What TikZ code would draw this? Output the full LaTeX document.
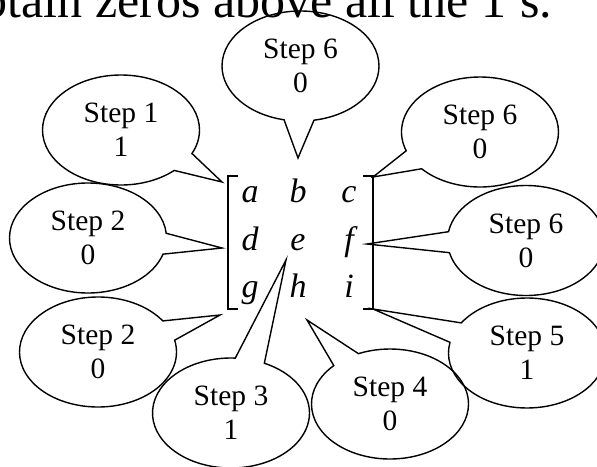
\documentclass[tikz,border=0pt]{standalone}
\usepackage{fontspec}
\setmainfont{Liberation Serif}
\usetikzlibrary{shapes.callouts}
\begin{document}
\begin{tikzpicture}[x=1pt,y=-1pt,
  bubble/.style={ellipse callout, draw, line width=1.4pt,
    minimum width=157pt, minimum height=110pt,
    inner sep=0pt, outer sep=0pt, callout pointer arc=22,
    align=center, font=\fontsize{29.5}{34}\selectfont},
  entry/.style={anchor=base, inner sep=0pt,
    font=\fontsize{34}{34}\selectfont\itshape},
  bracket/.style={line width=1.3pt},
  headline/.style={anchor=base west, inner sep=0pt,
    font=\fontsize{50}{50}\selectfont}]
\useasboundingbox (0,0) rectangle (597,466);

% heading line, running off the top edge
\node[headline] (head) at (-17.5,17.5) {btain zeros above all the 1's.};

% matrix entries
\node[entry] (m11) at (250,202) {a};
\node[entry] (m12) at (298,202) {b};
\node[entry] (m13) at (349,202) {c};
\node[entry] (m21) at (250,250.5) {d};
\node[entry] (m22) at (298,250.5) {e};
\node[entry] (m23) at (349,250.5) {f};
\node[entry] (m31) at (250,297) {g};
\node[entry] (m32) at (298,297) {h};
\node[entry] (m33) at (349,297) {i};

% brackets
\coordinate (ltop) at (228,176);
\coordinate (lbot) at (228,309);
\coordinate (rtop) at (373,176);
\coordinate (rbot) at (373,309);
\draw[bracket] ([xshift=10pt]ltop) -- (ltop) -- (lbot) -- ([xshift=10pt]lbot);
\draw[bracket] ([xshift=-10pt]rtop) -- (rtop) -- (rbot) -- ([xshift=-10pt]rbot);

% pointer tips
\coordinate (t1)  at (222,182);
\coordinate (t2a) at (222,248);
\coordinate (t2b) at (220,315);
\coordinate (t3)  at (286,260);
\coordinate (t4)  at (307,320);
\coordinate (t5)  at (373,309);
\coordinate (t6a) at (298,158);
\coordinate (t6b) at (373,177);
\coordinate (t6c) at (367,244);

% callouts
\node[bubble, callout absolute pointer={(t1)}]  (s1)  at (121,130)   {Step 1\\1};
\node[bubble, callout absolute pointer={(t2a)}] (s2a) at (88,238)    {Step 2\\0};
\node[bubble, callout absolute pointer={(t2b)}] (s2b) at (98,352)    {Step 2\\0};
\node[bubble, callout absolute pointer={(t3)}]  (s3)  at (231,413)   {Step 3\\1};
\node[bubble, callout absolute pointer={(t4)}]  (s4)  at (390,404)   {Step 4\\0};
\node[bubble, callout absolute pointer={(t5)}]  (s5)  at (527,353)   {Step 5\\1};
\node[bubble, callout absolute pointer={(t6a)}] (s6a) at (300.5,66)  {Step 6\\0};
\node[bubble, callout absolute pointer={(t6b)}] (s6b) at (480,132)   {Step 6\\0};
\node[bubble, callout absolute pointer={(t6c)}] (s6c) at (526,240.5) {Step 6\\0};
\end{tikzpicture}
\end{document}
